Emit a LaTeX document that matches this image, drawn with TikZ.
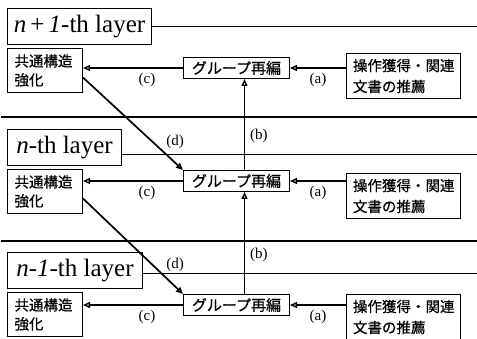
\documentclass[tikz,border=0pt]{standalone}
\usepackage{fontspec}
\setmainfont{Liberation Serif}
\newfontfamily\jpfont{Noto Sans CJK JP}[FakeBold=0.6]
\usetikzlibrary{arrows.meta,positioning}

\begin{document}
\begin{tikzpicture}[
  x=1pt, y=-1pt,
  font=\fontsize{15}{17}\selectfont,
  box/.style ={draw, line width=1pt, fill=white, inner sep=0pt},
  lay/.style ={box, anchor=north west, minimum height=36pt,
               font=\fontsize{25}{28}\selectfont},
  com/.style ={box, anchor=north west, align=left, text width=61pt,
               inner xsep=7pt, minimum height=44pt,
               font=\jpfont\fontsize{14.5}{19}\selectfont},
  grp/.style ={box, anchor=north west, minimum width=106pt, minimum height=21pt,
               font=\jpfont\fontsize{15}{17}\selectfont},
  rec/.style ={box, anchor=north west, align=left, text width=101pt,
               inner xsep=6.5pt, minimum height=45pt,
               font=\jpfont\fontsize{14.5}{21}\selectfont},
  layline/.style={line width=1.5pt},
  arr/.style ={-{Triangle[open, length=7pt, width=6pt]}, line width=1.4pt},
  lbl/.style ={inner sep=1pt}
]
\useasboundingbox (0,0) rectangle (477,339);

% layers
\node[lay, minimum width=144pt] (lay_top) at (7,8)   {\textit{n}\,+\,\textit{1}-th layer};
\node[lay, minimum width=114pt] (lay_mid) at (7,129) {\textit{n}-th layer};
\node[lay, minimum width=135pt] (lay_bot) at (7,252) {\textit{n}-\textit{1}-th layer};
\coordinate (rgt) at (477,0);

\draw[layline] (lay_top.east) -- (lay_top.east -| rgt);
\draw[layline] (1,117) -- (477,117);
\draw[layline] ([yshift=-7pt]lay_mid.east) -- ([yshift=-7pt]lay_mid.east -| rgt);
\draw[layline] (1,241) -- (477,241);
\draw[layline] ([yshift=-3pt]lay_bot.east) -- ([yshift=-3pt]lay_bot.east -| rgt);

% boxes per layer
\node[com, below=3pt of lay_top.south west, anchor=north west] (com_top) {共通構造\\強化};
\node[com, below=3pt of lay_mid.south west, anchor=north west] (com_mid) {共通構造\\強化};
\node[com, below=3pt of lay_bot.south west, anchor=north west] (com_bot) {共通構造\\強化};

\node[grp] (grp_top) at (183,57)  {グループ再編};
\node[grp] (grp_mid) at (183,170) {グループ再編};
\node[grp] (grp_bot) at (183,294) {グループ再編};

\node[rec] (rec_top) at (346,53)  {操作獲得・関連\\文書の推薦};
\node[rec] (rec_mid) at (346,173) {操作獲得・関連\\文書の推薦};
\node[rec] (rec_bot) at (346,294) {操作獲得・関連\\文書の推薦};

% (a)
\draw[arr] (rec_top.west |- grp_top.east) -- node[lbl, below=3pt] {(a)} (grp_top.east);
\draw[arr] (rec_mid.west |- grp_mid.east) -- node[lbl, below=3pt] {(a)} (grp_mid.east);
\draw[arr] (rec_bot.west |- grp_bot.east) -- node[lbl, below=3pt] {(a)} (grp_bot.east);

% (c)
\draw[arr] (grp_top.west) -- node[lbl, below=3pt, pos=0.36] {(c)} (grp_top.west -| com_top.east);
\draw[arr] (grp_mid.west) -- node[lbl, below=3pt, pos=0.36] {(c)} (grp_mid.west -| com_mid.east);
\draw[arr] (grp_bot.west) -- node[lbl, below=3pt, pos=0.36] {(c)} (grp_bot.west -| com_bot.east);

% (b)
\draw[arr] ([xshift=8pt]grp_mid.north) -- node[lbl, right=4pt, pos=0.38] {(b)} ([xshift=8pt]grp_top.south);
\draw[arr] ([xshift=8pt]grp_bot.north) -- node[lbl, right=4pt, pos=0.38] {(b)} ([xshift=8pt]grp_mid.south);

% (d)
\draw[arr, line width=1.7pt] ([yshift=-7pt]com_top.east) -- node[lbl, pos=0.8, above right=2pt] {(d)} (grp_mid.north west);
\draw[arr, line width=1.7pt] ([yshift=-7pt]com_mid.east) -- node[lbl, pos=0.8, above right=2pt] {(d)} (grp_bot.north west);
\end{tikzpicture}
\end{document}
